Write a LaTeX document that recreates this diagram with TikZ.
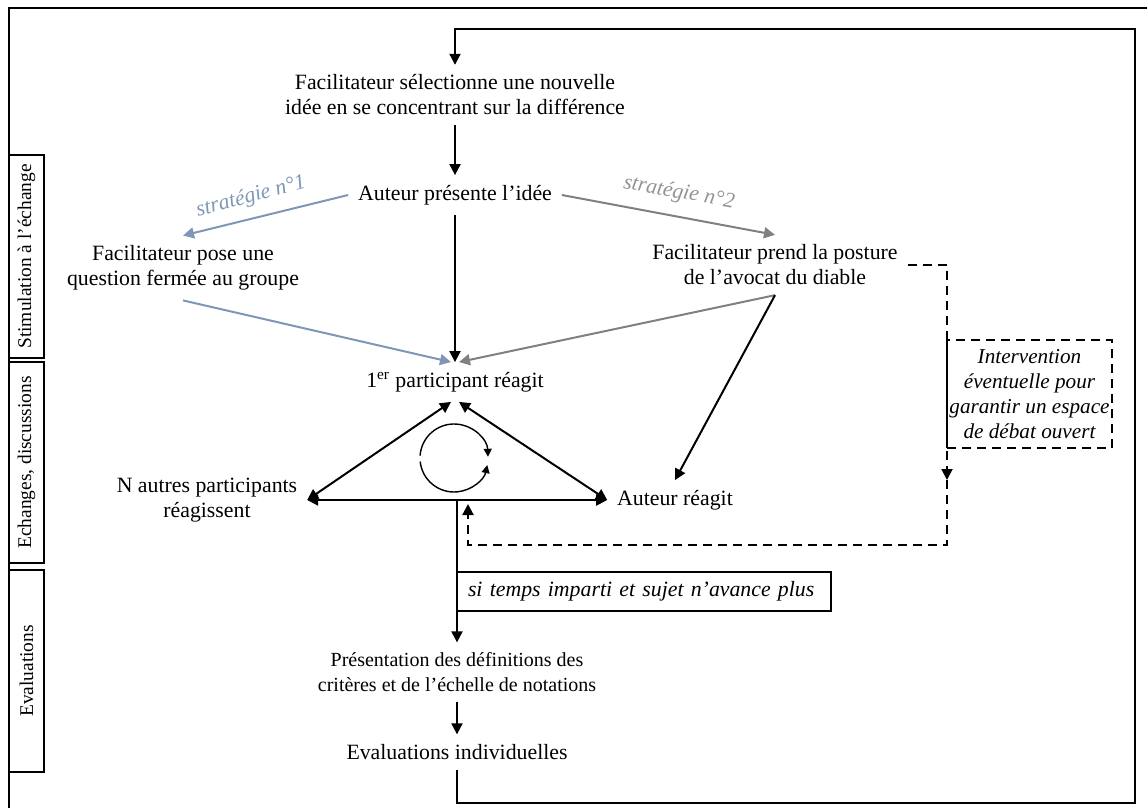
\documentclass[tikz,border=0pt]{standalone}
\usepackage{fontspec}
\setmainfont{Liberation Serif}
\usetikzlibrary{arrows.meta}
\definecolor{stratblue}{RGB}{127,150,182}
\definecolor{stratgrey}{RGB}{128,128,128}

\begin{document}
\begin{tikzpicture}[x=0.5pt,y=-0.5pt,
    >={Triangle[length=5.5pt,width=5.5pt]},
    txt/.style={align=center,inner sep=2pt,outer sep=3pt,font=\fontsize{10.9}{12.5}\selectfont},
    phase/.style={draw,line width=0.8pt,rotate=90,minimum height=17.5pt,inner sep=0pt,font=\fontsize{9.7}{11}\selectfont},
    link/.style={line width=1pt},
    strat1/.style={line width=1pt,stratblue},
    strat2/.style={line width=1pt,stratgrey},
    dashlink/.style={line width=1pt,dash pattern=on 4.5pt off 3pt}]
    \useasboundingbox (0,0) rectangle (1147,808);
    \draw[line width=0.8pt] (9,808) -- (9,8) -- (1147,8);

    % phases
    \node[phase,minimum width=101.5pt] (stim) at (26.5,256.5) {Stimulation à l'échange};
    \node[phase,minimum width=100.5pt] (echg) at (26.5,462.5) {Echanges, discussions};
    \node[phase,minimum width=101pt] (evals) at (26.5,671) {Evaluations};

    % steps
    \node[txt] (sel) at (455,95) {Facilitateur sélectionne une nouvelle\\idée en se concentrant sur la différence};
    \node[txt] (auteur) at (455,195) {Auteur présente l'idée};
    \node[txt] (pose) at (183,268) {Facilitateur pose une\\question fermée au groupe};
    \node[txt] (posture) at (775,265) {Facilitateur prend la posture\\de l'avocat du diable};
    \node[txt] (part1) at (455,382) {1\textsuperscript{er} participant réagit};
    \node[txt] (autres) at (207,500) {N autres participants\\réagissent};
    \node[txt] (auteurR) at (675,500) {Auteur réagit};
    \node[txt,draw,line width=1pt,dash pattern=on 4.5pt off 3pt,inner xsep=0.5pt,minimum width=82.5pt,minimum height=54pt,font=\fontsize{10.6}{12.5}\selectfont\itshape] (interv) at (1029.5,394) {Intervention\\éventuelle pour\\garantir un espace\\de débat ouvert};
    \node[txt,draw,line width=0.6pt,anchor=west,align=left,text width=176pt,inner xsep=5.5pt,minimum height=19.5pt,outer sep=0pt,font=\fontsize{10.9}{12.5}\selectfont\itshape] (cond) at (457,591.5) {si temps imparti et sujet n'avance plus};
    \node[txt,font=\fontsize{10}{12.5}\selectfont] (pres) at (457,672) {Présentation des définitions des\\critères et de l'échelle de notations};
    \node[txt] (evalind) at (457,752) {Evaluations individuelles};

    % strategies
    \node[font=\fontsize{10.9}{12.5}\selectfont\itshape,text=stratblue,rotate=15] (s1) at (251,197) {stratégie n°1};
    \node[font=\fontsize{10.9}{12.5}\selectfont\itshape,text=stratgrey!85,rotate=-10] (s2) at (679,193) {stratégie n°2};

    % loop back to a new idea
    \coordinate (lbl) at (457,803);
    \coordinate (lbr) at (1135,803);
    \coordinate (ltr) at (1135,29);
    \coordinate (ltl) at (455,29);
    \draw[link,->] (evalind) -- (lbl) -- (lbr) -- (ltr) -- (ltl) -- (sel);

    \draw[link,->] (sel) -- (auteur);
    \draw[link,->] (auteur) -- (part1);
    \draw[strat1,->] (auteur.west) -- (pose.north);
    \draw[strat2,->] (auteur.east) -- (posture.north);
    \draw[strat1,->] (pose.south) -- ([xshift=-2pt]part1.north);
    \draw[strat2,->] (posture.south) -- ([xshift=2pt]part1.north);
    \draw[link,->] (posture.south) -- (auteurR.north);

    % exchanges
    \draw[link,<->] ([xshift=-2pt]part1.south) -- (autres.east);
    \draw[link,<->] ([xshift=2pt]part1.south) -- (auteurR.west);
    \draw[link,<->] (autres.east) -- (auteurR.west);
    \coordinate (cyc) at (454,458);
    \draw[line width=0.7pt,-{Triangle[length=4pt,width=4pt]}] ([shift={(176:17pt)}]cyc) arc[start angle=176,end angle=2,radius=17pt];
    \draw[line width=0.7pt,-{Triangle[length=4pt,width=4pt]}] ([shift={(186:17pt)}]cyc) arc[start angle=186,end angle=348,radius=17pt];
    \draw[link,->] (autres.east -| pres.north) -- (pres.north);
    \draw[link,->] (pres) -- (evalind);

    % facilitator intervention
    \coordinate (dtr) at (947,265);
    \coordinate (dmid) at (947,480);
    \coordinate (dbr) at (947,545);
    \coordinate (dbl) at (468,545);
    \coordinate (dtip) at (468,504);
    \draw[dashlink,->] (posture.east) -- (dtr) -- (dmid);
    \draw[dashlink,->] (dmid) -- (dbr) -- (dbl) -- (dtip);
\end{tikzpicture}
\end{document}
